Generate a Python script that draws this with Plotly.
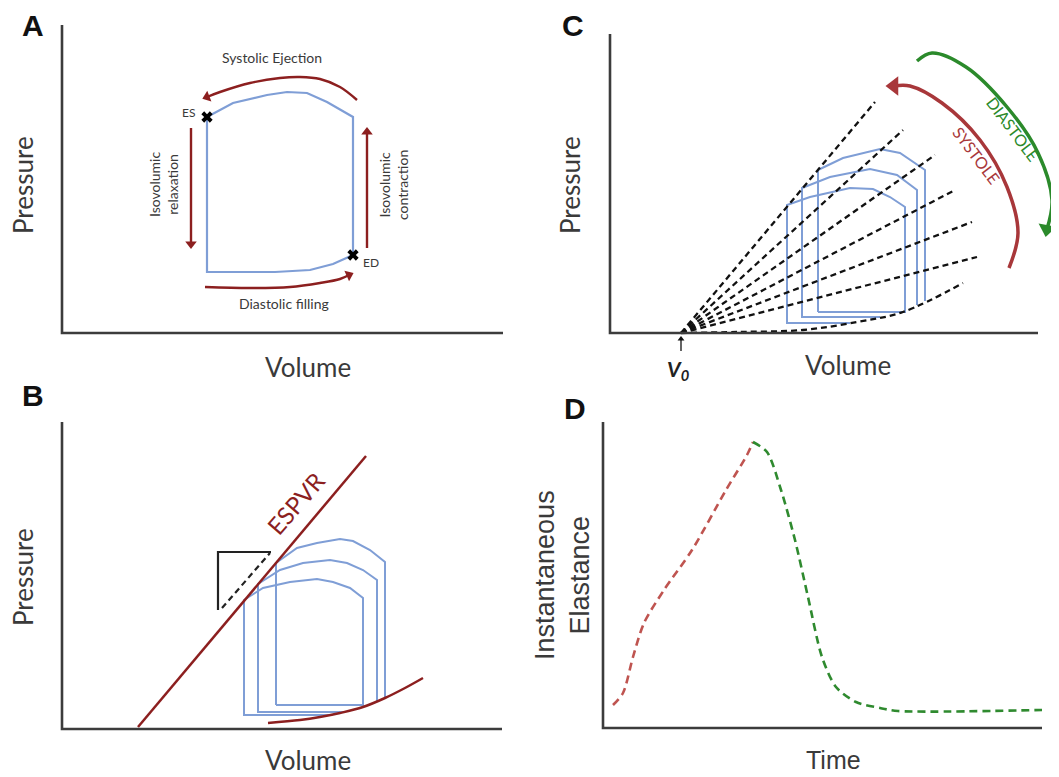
import plotly.graph_objects as go

W, H = 1059, 777
OFF = 8  # the page body margin shifts the figure by 8 px; reference pixels are corrected by it

# ---------------- data (volume / pressure / time, arbitrary units) ----------------
# Panel A: single pressure-volume loop
a_loop_vol = [145, 145, 213, 248, 271, 291, 291, 265, 245, 225, 205, 171, 145]
a_loop_pres = [216, 61, 61, 63, 69, 78, 216, 231, 240, 241, 238, 230, 216]
a_marker_vol = [145, 291]
a_marker_pres = [216, 78]
a_eject_vol = [295, 278, 258, 238, 218, 188, 158, 145]
a_eject_pres = [233, 246, 254, 256, 255, 250, 241, 236]
a_fill_vol = [143, 188, 228, 258, 278, 287]
a_fill_pres = [46, 45, 46, 50, 54, 58]
a_relax_vol = [129, 129]
a_relax_pres = [205, 89]
a_contr_vol = [305, 305]
a_contr_pres = [85, 201]

# Panel B: ESPVR, EDPVR and three loops
b_espvr_vol = [76, 304]
b_espvr_pres = [2, 273]
b_edpvr_vol = [206, 238, 258, 278, 301, 323, 343, 361]
b_edpvr_pres = [6, 9, 12, 16, 22, 31, 41, 51]
b_loop1_vol = [268, 182, 182, 201, 228, 255, 271, 288, 301, 301, 214]
b_loop1_pres = [14, 14, 129, 141, 147, 150, 147, 141, 131, 24, 24]
b_loop2_vol = [283, 196, 196, 218, 241, 268, 285, 301, 315, 315]
b_loop2_pres = [17, 17, 145, 159, 166, 169, 166, 159, 149, 28]
b_loop3_vol = [214, 214, 235, 255, 278, 291, 308, 323, 323]
b_loop3_pres = [24, 166, 181, 186, 190, 188, 179, 167, 31]
b_tri_vol = [209, 156, 156]
b_tri_pres = [177, 177, 119]
b_slope_vol = [160, 208]
b_slope_pres = [121, 176]

# Panel C: time-varying elastance lines through V0
c_v0 = 71
c_line_end_vol = [265, 293, 325, 345, 362, 367]
c_line_end_pres = [231, 203, 178, 143, 111, 76]
c_edpvr_vol = [71, 127, 193, 247, 293, 353]
c_edpvr_pres = [0, 1, 3, 11, 21, 50]
c_loop1_vol = [240, 177, 177, 200, 240, 263, 280, 295, 295, 208]
c_loop1_pres = [10, 10, 128, 136, 145, 144, 136, 126, 21, 21]
c_loop2_vol = [270, 192, 192, 220, 260, 287, 307, 307]
c_loop2_pres = [16, 16, 145, 156, 164, 158, 143, 28]
c_loop3_vol = [208, 208, 233, 270, 290, 315, 315]
c_loop3_pres = [21, 163, 175, 184, 180, 163, 32]
c_sys_arc_vol = [399, 408, 397, 370, 332, 300, 284]
c_sys_arc_pres = [65, 100, 146, 193, 230, 247, 247]
c_dia_arc_vol = [307, 322, 356, 397, 428, 442, 437]
c_dia_arc_pres = [272, 280, 266, 226, 180, 133, 104]
c_v0_arrow_pres = [-18, -6]

# Panel D: instantaneous elastance vs time
d_sys_time = [10, 20, 30, 41, 61, 89, 123, 144, 150]
d_sys_elast = [23, 35, 71, 105, 138, 178, 238, 273, 286]
d_dia_time = [150, 164, 178, 192, 205, 219, 233, 253, 277, 295, 439]
d_dia_elast = [286, 276, 238, 188, 131, 71, 41, 26, 20, 17, 18]

# ---------------- styling / geometry ----------------
BLUE = "#7f9ed6"
DRED = "#8c1f1f"
CRED = "#a8373a"
CGREEN = "#2b8a2b"
DREDD = "#bf5450"
DGREEN = "#2f8a2f"
AXC = "#3c3c3c"
TXT = "#3a3a3a"
FONT = "Lato, 'Open Sans', sans-serif"
ARIAL = "'Liberation Sans', Arial, sans-serif"

# region (left, right, top, bottom) in reference px, axis origin (px), axis lengths
panels = {
    "A": dict(ax=("x", "y"), region=(40, 530, 15, 345), origin=(62, 333), length=(441, 308)),
    "B": dict(ax=("x2", "y2"), region=(40, 530, 410, 745), origin=(62, 729), length=(440, 307)),
    "C": dict(ax=("x3", "y3"), region=(595, 1059, 15, 390), origin=(610, 333), length=(428, 299)),
    "D": dict(ax=("x4", "y4"), region=(590, 1059, 410, 745), origin=(603, 728), length=(439, 306)),
}

fig = go.Figure()
layout_axes = {}
shapes = []
for key, p in panels.items():
    l, r, t, b = p["region"]
    ox, oy = p["origin"]
    xa, ya = p["ax"]
    xname = "xaxis" + xa[1:]
    yname = "yaxis" + ya[1:]
    layout_axes[xname] = dict(domain=[(l - OFF) / W, (r - OFF) / W], range=[l - ox, r - ox],
                              visible=False, anchor=ya, fixedrange=True)
    layout_axes[yname] = dict(domain=[1 - (b - OFF) / H, 1 - (t - OFF) / H], range=[oy - b, oy - t],
                              visible=False, anchor=xa, fixedrange=True)
    xl, yl = p["length"]
    shapes.append(dict(type="path", xref=xa, yref=ya, path=f"M 0 {yl} L 0 0 L {xl} 0",
                       line=dict(color=AXC, width=2.6)))


def add_line(panel, x, y, color, width, dash=None, shape="linear", smoothing=1.0, head=0):
    xa, ya = panels[panel]["ax"]
    ln = dict(color=color, width=width, shape=shape)
    if shape == "spline":
        ln["smoothing"] = smoothing
    if dash:
        ln["dash"] = dash
    kw = dict(mode="lines")
    if head:
        kw["mode"] = "lines+markers"
        kw["marker"] = dict(symbol="triangle-up", size=[0] * (len(x) - 1) + [head], color=color,
                            angleref="previous", line=dict(width=0), opacity=1)
    fig.add_trace(go.Scatter(x=x, y=y, line=ln, xaxis=xa, yaxis=ya,
                             hoverinfo="skip", showlegend=False, **kw))


annotations = []


def dtext(panel, x, y, text, size, color=TXT, angle=0, family=FONT):
    xa, ya = panels[panel]["ax"]
    annotations.append(dict(x=x, y=y, xref=xa, yref=ya, text=text, showarrow=False,
                            textangle=angle, font=dict(size=size, color=color, family=family),
                            xanchor="center", yanchor="middle"))


def ptext(px, py, text, size, color=TXT, angle=0, family=FONT):
    annotations.append(dict(x=(px - OFF) / W, y=1 - (py - OFF) / H, xref="paper", yref="paper",
                            text=text, showarrow=False, textangle=angle,
                            font=dict(size=size, color=color, family=family),
                            xanchor="center", yanchor="middle"))


# ---------------- Panel A ----------------
add_line("A", a_loop_vol, a_loop_pres, BLUE, 2.2)
add_line("A", a_eject_vol, a_eject_pres, DRED, 2.4, shape="spline", head=10)
add_line("A", a_fill_vol, a_fill_pres, DRED, 2.4, shape="spline", head=10)
add_line("A", a_relax_vol, a_relax_pres, DRED, 2.4, head=10)
add_line("A", a_contr_vol, a_contr_pres, DRED, 2.4, head=10)
fig.add_trace(go.Scatter(x=a_marker_vol, y=a_marker_pres, mode="markers",
                         marker=dict(symbol="x", size=10, color="black"),
                         xaxis="x", yaxis="y", hoverinfo="skip", showlegend=False))
dtext("A", 210, 276, "Systolic Ejection", 14)
dtext("A", 126, 221, "ES", 12)
dtext("A", 309, 71, "ED", 12)
dtext("A", 101, 148, "Isovolumic<br>relaxation", 14, angle=-90)
dtext("A", 331, 148, "Isovolumic<br>contraction", 14, angle=-90)
dtext("A", 222, 30, "Diastolic filling", 14)

# ---------------- Panel B ----------------
add_line("B", b_loop1_vol, b_loop1_pres, BLUE, 2.0)
add_line("B", b_loop2_vol, b_loop2_pres, BLUE, 2.0)
add_line("B", b_loop3_vol, b_loop3_pres, BLUE, 2.0)
add_line("B", b_tri_vol, b_tri_pres, "#222222", 2.2)
add_line("B", b_slope_vol, b_slope_pres, "#222222", 2.2, dash="6px,4px")
add_line("B", b_espvr_vol, b_espvr_pres, DRED, 2.5)
add_line("B", b_edpvr_vol, b_edpvr_pres, DRED, 2.5, shape="spline")
dtext("B", 233, 226, "ESPVR", 24, color=DRED, angle=-49)

# ---------------- Panel C ----------------
add_line("C", c_loop1_vol, c_loop1_pres, BLUE, 2.0)
add_line("C", c_loop2_vol, c_loop2_pres, BLUE, 2.0)
add_line("C", c_loop3_vol, c_loop3_pres, BLUE, 2.0)
for ev, ep in zip(c_line_end_vol, c_line_end_pres):
    add_line("C", [c_v0, ev], [0, ep], "#111111", 2.3, dash="6px,4px")
add_line("C", c_edpvr_vol, c_edpvr_pres, "#111111", 2.3, dash="6px,4px", shape="spline")
add_line("C", c_sys_arc_vol, c_sys_arc_pres, CRED, 3.5, shape="spline", head=17)
add_line("C", c_dia_arc_vol, c_dia_arc_pres, CGREEN, 3.5, shape="spline", head=16)
dtext("C", 403, 205, "DIASTOLE", 16, color=CGREEN, angle=53)
dtext("C", 367, 178, "SYSTOLE", 16, color=CRED, angle=53)
add_line("C", [c_v0, c_v0], c_v0_arrow_pres, "#111111", 1.3, head=6)
dtext("C", c_v0 - 3, -37, "<b><i>V<sub>0</sub></i></b>", 21, color="#222222")

# ---------------- Panel D ----------------
add_line("D", d_sys_time, d_sys_elast, DREDD, 2.6, dash="8px,5px", shape="spline", smoothing=0.8)
add_line("D", d_dia_time, d_dia_elast, DGREEN, 2.6, dash="8px,5px", shape="spline", smoothing=0.8)

# ---------------- panel letters & axis titles ----------------
for letter, (px, py) in {"A": (33, 25), "B": (33, 395), "C": (573, 25), "D": (575, 408)}.items():
    ptext(px, py, f"<b>{letter}</b>", 30, color="#111111", family=ARIAL)
ptext(23, 185, "Pressure", 26, angle=-90)
ptext(308, 367, "Volume", 26)
ptext(23, 577, "Pressure", 26, angle=-90)
ptext(308, 760, "Volume", 26)
ptext(570, 185, "Pressure", 26, angle=-90)
ptext(848, 365, "Volume", 26)
ptext(562, 575, "Instantaneous<br>Elastance", 27, angle=-90, family=ARIAL)
ptext(833, 760, "Time", 25, family=ARIAL)

fig.update_layout(width=W, height=H, margin=dict(l=0, r=0, t=0, b=0),
                  paper_bgcolor="white", plot_bgcolor="white", showlegend=False,
                  shapes=shapes, annotations=annotations, **layout_axes)
fig.write_html("out.html")
